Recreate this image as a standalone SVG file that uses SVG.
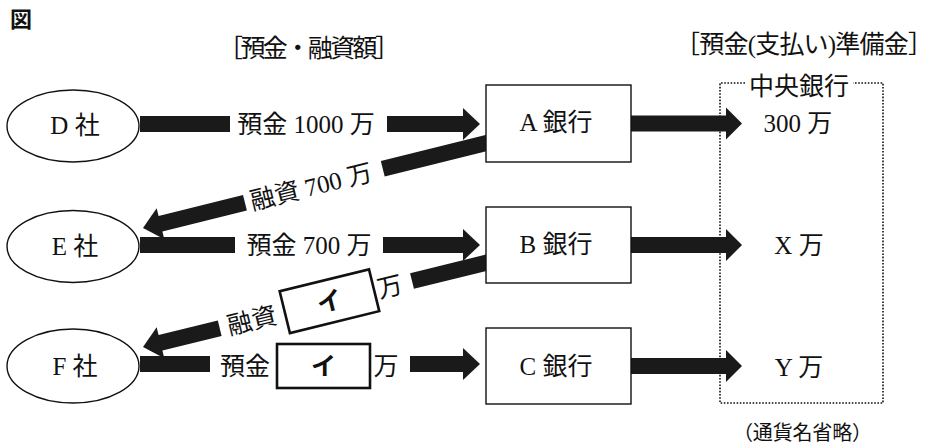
<svg xmlns="http://www.w3.org/2000/svg" width="939" height="446" viewBox="0 0 939 446">
<style>
text{font-family:"Liberation Serif","Noto Sans CJK JP",serif;font-size:25px;fill:#111}
.c{text-anchor:middle}
.bar{fill:#1a1a1a}
.node{fill:#fff;stroke:#111;stroke-width:1.4}
.blank{fill:#fff;stroke:#111;stroke-width:2.6}
.dot{fill:none;stroke:#111;stroke-width:1.6;stroke-dasharray:1.6 1.6}
.kata{font-family:"Noto Sans CJK JP",sans-serif;font-size:25px;font-weight:bold}
</style>
<rect width="939" height="446" fill="#fff"/>
<text x="10" y="27" style="font-family:'Noto Sans CJK JP',sans-serif;font-size:22px;font-weight:bold">図</text>
<text x="218" y="57" textLength="182" lengthAdjust="spacing">［預金・融資額］</text>
<text x="675" y="53" textLength="258" lengthAdjust="spacing">［預金(支払い)準備金］</text>

<g id="central-bank">
<path class="dot" d="M745,83 H720 V403 H883 V83 H853"/>
<text x="799" y="95" class="c">中央銀行</text>
<text x="798" y="132" class="c">300 万</text>
<text x="799" y="254" class="c">X 万</text>
<text x="799" y="376" class="c">Y 万</text>
</g>

<g id="connectors">
<!-- D -> A -->
<rect class="bar" x="140" y="116" width="90" height="16"/>
<text x="306" y="133" class="c">預金 1000 万</text>
<rect class="bar" x="387" y="116" width="77" height="16"/>
<polygon class="bar" points="480,124 463,108 463,140"/>
<!-- E -> B -->
<rect class="bar" x="140" y="237" width="95" height="16"/>
<text x="309" y="254" class="c">預金 700 万</text>
<rect class="bar" x="383" y="237" width="81" height="16"/>
<polygon class="bar" points="480,245 463,229 463,261"/>
<!-- F -> C -->
<rect class="bar" x="140" y="356" width="70" height="16"/>
<text x="245" y="375" class="c">預金</text>
<rect class="blank" x="277" y="344" width="93" height="44"/>
<text x="323.5" y="375" class="c kata">イ</text>
<text x="386" y="375" class="c">万</text>
<rect class="bar" x="410" y="356" width="54" height="16"/>
<polygon class="bar" points="480,364 463,348 463,380"/>
<!-- banks -> central -->
<rect class="bar" x="631" y="115.5" width="96" height="16"/>
<polygon class="bar" points="742,123.5 726,107.5 726,139.5"/>
<rect class="bar" x="631" y="237" width="96" height="16"/>
<polygon class="bar" points="742,245 726,229 726,261"/>
<rect class="bar" x="631" y="358" width="96" height="16"/>
<polygon class="bar" points="742,366 726,350 726,382"/>
<!-- A -> E loan -->
<g transform="translate(143,228) rotate(-13.9)">
<polygon class="bar" points="0,0 18,-16 18,16"/>
<rect class="bar" x="17" y="-8" width="88" height="16"/>
<text x="173" y="9" class="c">融資 700 万</text>
<rect class="bar" x="247" y="-8" width="113" height="16"/>
</g>
<!-- B -> F loan -->
<g transform="translate(143,347) rotate(-13.8)">
<polygon class="bar" points="0,0 18,-16 18,16"/>
<rect class="bar" x="17" y="-8" width="62" height="16"/>
<text x="112" y="9" class="c">融資</text>
<rect class="blank" x="146" y="-21.5" width="92" height="43"/>
<text x="192" y="9" class="c kata">イ</text>
<text x="254" y="9" class="c">万</text>
<rect class="bar" x="277" y="-8" width="83" height="16"/>
</g>
</g>

<g id="D">
<ellipse class="node" cx="73" cy="126" rx="66" ry="36"/>
<text x="75" y="134" class="c">D 社</text>
</g>
<g id="E">
<ellipse class="node" cx="73" cy="246.5" rx="66" ry="36"/>
<text x="75" y="255" class="c">E 社</text>
</g>
<g id="F">
<ellipse class="node" cx="73" cy="366" rx="66" ry="37"/>
<text x="75" y="375" class="c">F 社</text>
</g>
<g id="A">
<rect class="node" x="486" y="85" width="145" height="77"/>
<text x="556" y="131" class="c">A 銀行</text>
</g>
<g id="B">
<rect class="node" x="486" y="207" width="145" height="76"/>
<text x="556" y="253" class="c">B 銀行</text>
</g>
<g id="C">
<rect class="node" x="486" y="328" width="145" height="76"/>
<text x="556" y="375" class="c">C 銀行</text>
</g>
<text x="733" y="440" style="font-size:20px" textLength="139" lengthAdjust="spacing">（通貨名省略）</text>
</svg>
